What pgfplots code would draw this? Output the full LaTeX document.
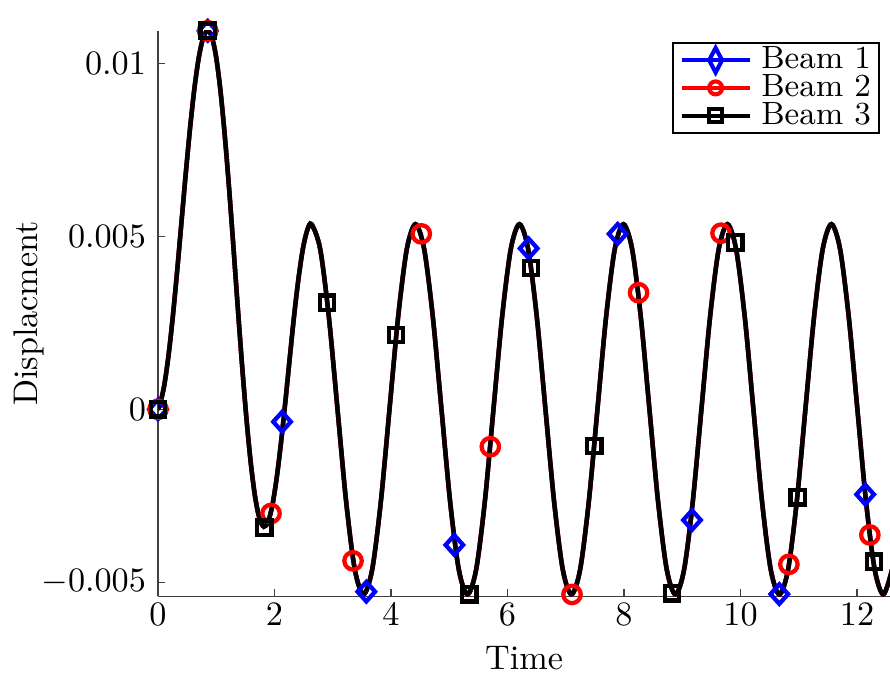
\documentclass[border=0pt]{standalone}
\usepackage{pgfplots}
\pgfplotsset{compat=1.18}
\usepackage{pgfplotstable}

\pgfplotstableread{
t y
0 0
0.0321 0.000131
0.1064 0.000689
0.1808 0.001564
0.2552 0.002700
0.3295 0.004019
0.4039 0.005434
0.4783 0.006850
0.5526 0.008169
0.6270 0.009304
0.7014 0.010180
0.7757 0.010737
0.8501 0.010938
0.9245 0.010762
0.9989 0.010167
1.0732 0.009187
1.1476 0.007885
1.2220 0.006341
1.2963 0.004648
1.3707 0.002911
1.4451 0.001228
1.5195 -0.000294
1.5938 -0.001575
1.6682 -0.002547
1.7426 -0.003159
1.8169 -0.003392
1.8913 -0.003246
1.9657 -0.002748
2.0400 -0.001948
2.1144 -0.000917
2.1888 0.000265
2.2632 0.001512
2.3375 0.002724
2.4119 0.003783
2.4863 0.004633
2.5606 0.005168
2.6350 0.00535
2.7838 0.004633
2.9325 0.002675
3.0813 0
3.2300 -0.002675
3.3788 -0.004633
3.5275 -0.00535
3.6763 -0.004633
3.8250 -0.002675
3.9738 0
4.1225 0.002675
4.2713 0.004633
4.4200 0.00535
4.5688 0.004633
4.7175 0.002675
4.8663 0
5.0150 -0.002675
5.1638 -0.004633
5.3125 -0.00535
5.4613 -0.004633
5.6100 -0.002675
5.7588 0
5.9075 0.002675
6.0563 0.004633
6.2050 0.00535
6.3538 0.004633
6.5025 0.002675
6.6513 0
6.8000 -0.002675
6.9488 -0.004633
7.0975 -0.00535
7.2463 -0.004633
7.3950 -0.002675
7.5438 0
7.6925 0.002675
7.8413 0.004633
7.9900 0.00535
8.1388 0.004633
8.2875 0.002675
8.4363 0
8.5850 -0.002675
8.7338 -0.004633
8.8825 -0.00535
9.0313 -0.004633
9.1800 -0.002675
9.3288 0
9.4775 0.002675
9.6263 0.004633
9.7750 0.00535
9.9238 0.004633
10.0725 0.002675
10.2213 0
10.3700 -0.002675
10.5188 -0.004633
10.6675 -0.00535
10.8163 -0.004633
10.9650 -0.002675
11.1138 0
11.2625 0.002675
11.4113 0.004633
11.5600 0.00535
11.7088 0.004633
11.8575 0.002675
12.0063 0
12.1550 -0.002675
12.3038 -0.004633
12.4525 -0.00535
12.6013 -0.004633
}\curve

\pgfplotstableread{
t y
0 0
0.853 0.01094
2.129 -0.00036
3.576 -0.00527
5.087 -0.00392
6.363 0.00465
7.89 0.00507
9.167 -0.0032
10.666 -0.00534
12.14 -0.00246
}\beamone

\pgfplotstableread{
t y
0 0
0.853 0.01094
1.94 -0.00301
3.348 -0.00438
4.52 0.00507
5.705 -0.00108
7.107 -0.00535
8.25 0.00337
9.665 0.00509
10.83 -0.00448
12.22 -0.00363
}\beamtwo

\pgfplotstableread{
t y
0 0
0.853 0.01094
1.825 -0.00342
2.90 0.00308
4.086 0.00215
5.344 -0.00535
6.403 0.00408
7.49 -0.00106
8.824 -0.00532
9.91 0.00482
10.98 -0.00254
12.29 -0.0044
}\beamthree

\begin{document}
\begin{tikzpicture}
\begin{axis}[
  scale only axis, width=214pt, height=165.3pt,
  xmin=0, xmax=12.566, ymin=-0.0054, ymax=0.01094,
  axis lines=left,
  axis line style={-, black!75, line width=0.35pt},
  tick style={black!75, line width=0.35pt},
  major tick length=2pt,
  tick align=inside,
  xtick={0,2,4,6,8,10,12},
  ytick={-0.005,0,0.005,0.01},
  yticklabels={$-0.005$,$0$,$0.005$,$0.01$},
  scaled y ticks=false,
  xticklabel shift=-1.33pt,
  xlabel={Time}, ylabel={Displacment},
  xlabel style={inner sep=2.5pt},
  ylabel style={inner sep=0pt},
  ylabel shift=-4.4pt,
  legend cell align=left,
  legend image code/.code={%
    \draw[mark repeat=2,mark phase=2,#1] plot coordinates {(0cm,0cm) (0.35cm,0cm) (0.7cm,0cm)};%
  },
  legend style={at={(0.986,0.98)}, anchor=north east, draw=black, line width=0.5pt,
    fill=white, inner xsep=2pt, inner ysep=1pt,
    font=\fontsize{9.4}{11}\selectfont,
    nodes={inner sep=0.3pt, text height=6.3pt, text depth=1.2pt},
    /tikz/every odd column/.append style={column sep=2.5pt}, row sep=0pt},
]
\addlegendimage{blue, line width=1.2pt, mark=diamond, mark size=3.6pt, mark options={solid, xscale=0.7, line width=1.2pt}}
\addlegendimage{red, line width=1.2pt, mark=o, mark size=1.9pt, mark options={solid, line width=1.2pt}}
\addlegendimage{black, line width=1.2pt, mark=square, mark size=1.9pt, mark options={solid, line width=1.2pt}}
\legend{Beam 1, Beam 2, Beam 3}

\addplot[blue, line width=1.3pt, smooth, forget plot] table {\curve};
\addplot[only marks, blue, mark=diamond, mark size=2.85pt, mark options={solid, xscale=1.2, line width=1.25pt}, forget plot] table {\beamone};
\addplot[red, line width=1.3pt, smooth, forget plot] table {\curve};
\addplot[only marks, red, mark=o, mark size=2.55pt, mark options={solid, line width=1.25pt}, forget plot] table {\beamtwo};
\addplot[black, line width=1.3pt, smooth, forget plot] table {\curve};
\addplot[only marks, black, mark=square, mark size=2.1pt, mark options={solid, line width=1.25pt}, forget plot] table {\beamthree};
\end{axis}
\pgfresetboundingbox
\path ([xshift=-46.2pt,yshift=-23.1pt]current axis.south west) rectangle ([yshift=9pt]current axis.north east);
\end{tikzpicture}
\end{document}
